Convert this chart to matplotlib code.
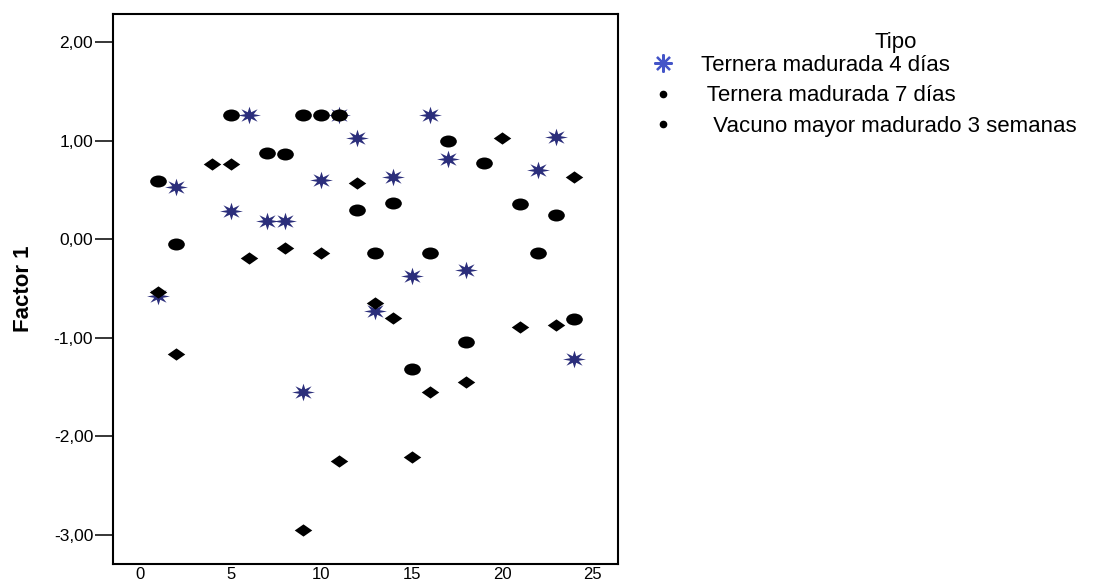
import numpy as np
import matplotlib
matplotlib.use('Agg')
import matplotlib.pyplot as plt
from matplotlib.path import Path
from matplotlib.lines import Line2D
from matplotlib.ticker import FuncFormatter

plt.rcParams['font.family'] = ['Liberation Sans', 'DejaVu Sans']

# valores (numero de muestra vs Factor 1)
x_4dias = [1, 2, 5, 6, 7, 8, 9, 10, 11, 12, 13, 14, 15, 16, 17, 18, 22, 23, 24]
y_4dias = [-0.58, 0.53, 0.29, 1.26, 0.19, 0.19, -1.55, 0.60, 1.26, 1.03,
           -0.73, 0.63, -0.37, 1.26, 0.81, -0.31, 0.70, 1.04, -1.21]

x_7dias = [1, 2, 5, 7, 8, 9, 10, 11, 12, 13, 14, 15, 16, 17, 18, 19, 21, 22, 23, 24]
y_7dias = [0.59, -0.05, 1.26, 0.87, 0.86, 1.26, 1.26, 1.26, 0.30, -0.14,
           0.37, -1.32, -0.14, 1.00, -1.04, 0.77, 0.36, -0.14, 0.25, -0.81]

x_3sem = [1, 2, 4, 5, 6, 8, 9, 10, 11, 12, 13, 14, 15, 16, 18, 20, 21, 23, 24]
y_3sem = [-0.53, -1.16, 0.76, 0.76, -0.19, -0.09, -2.95, -0.14, -2.25, 0.57,
          -0.65, -0.80, -2.21, -1.55, -1.45, 1.03, -0.89, -0.87, 0.63]

etiquetas = ['Ternera madurada 4 días', ' Ternera madurada 7 días',
             '  Vacuno mayor madurado 3 semanas']

# marcadores algo estirados en horizontal, como en el original
circ = Path.unit_circle()
ellipse = Path(circ.vertices * [1.0, 0.72], circ.codes)
diamond = Path([(-1, 0), (0, 0.7), (1, 0), (0, -0.7), (-1, 0)],
               [Path.MOVETO, Path.LINETO, Path.LINETO, Path.LINETO, Path.CLOSEPOLY])
ang = np.arange(16) * np.pi / 8
rad = np.where(np.arange(16) % 2 == 0, 1.0, 0.4)
sv = np.column_stack([rad * np.cos(ang) * 1.3, rad * np.sin(ang)])
star = Path(np.vstack([sv, sv[:1]]),
            [Path.MOVETO] + [Path.LINETO] * 15 + [Path.CLOSEPOLY])

navy = '#2b2e7b'

fig = plt.figure(figsize=(10.94, 5.82), dpi=100)
ax = fig.add_axes([0.1036, 0.031, 0.4613, 0.945])

ax.plot(x_4dias, y_4dias, ls='none', marker=star, ms=16.5, color=navy, mew=0)
ax.plot(x_7dias, y_7dias, ls='none', marker=ellipse, ms=12, color='black', mew=0)
ax.plot(x_3sem, y_3sem, ls='none', marker=diamond, ms=12.6, color='black', mew=0)

ax.set_xlim(-1.475, 26.41)
ax.set_ylim(-3.293, 2.285)
ax.set_xticks([0, 5, 10, 15, 20, 25])
ax.set_yticks([-3, -2, -1, 0, 1, 2])
ax.yaxis.set_major_formatter(FuncFormatter(lambda v, p: f'{v:.2f}'.replace('.', ',')))
ax.tick_params(axis='y', length=13, width=1.1, pad=1.5, labelsize=12.5)
ax.tick_params(axis='x', length=0, pad=2, labelsize=12)
for s in ax.spines.values():
    s.set_linewidth(1.5)

ax.set_ylabel('Factor 1', fontsize=16, fontweight='bold')
ax.yaxis.set_label_coords(-0.157, 0.5)

handles = [Line2D([], [], ls='none', marker=(8, 2, 0), ms=13, mew=1.6, color='#4455c8'),
           Line2D([], [], ls='none', marker='o', ms=4.5, color='black'),
           Line2D([], [], ls='none', marker='o', ms=4.5, color='black')]
fig.legend(handles, etiquetas, loc='upper left', bbox_to_anchor=(652 / 1094, 1 - 55 / 582),
           frameon=False, fontsize=16, borderpad=0, handlelength=1.0,
           handletextpad=1.2, labelspacing=0.42, borderaxespad=0)
fig.text(896 / 1094, 1 - 48 / 582, 'Tipo', ha='center', va='baseline', fontsize=16)

fig.savefig('out.png', dpi=100)
